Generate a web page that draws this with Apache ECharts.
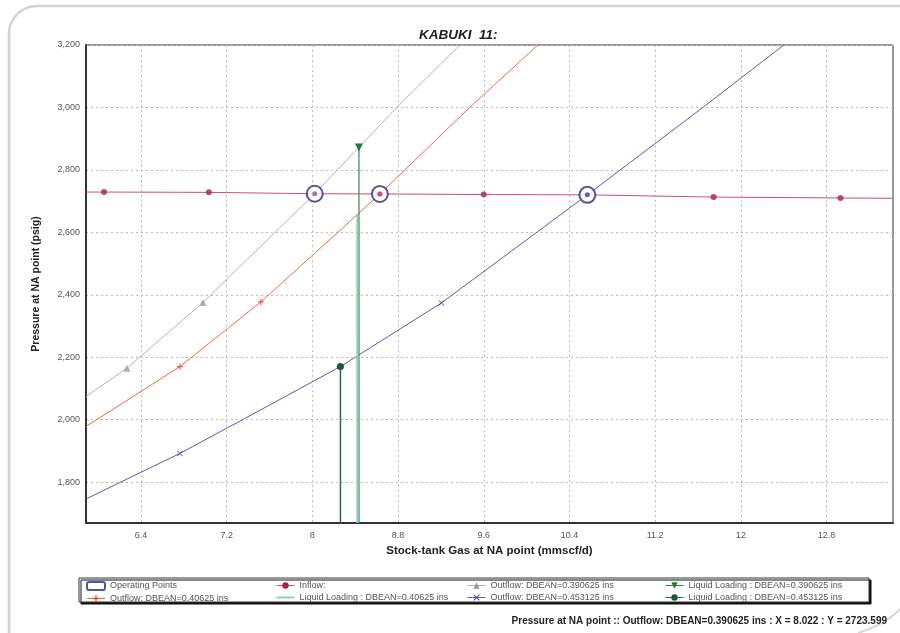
<!DOCTYPE html>
<html>
<head>
<meta charset="utf-8">
<script src="https://cdn.jsdelivr.net/npm/echarts@6/dist/echarts.min.js"></script>
<style>
  html, body { margin: 0; padding: 0; background: #fff; }
  #chart { width: 900px; height: 633px; }
</style>
</head>
<body>
<div id="chart"></div>
<script>
// Axis extents and tick labels
const xRange = [5.887, 13.42];
const yRange = [1669, 3200];
const xTicks = [6.4, 7.2, 8, 8.8, 9.6, 10.4, 11.2, 12, 12.8];
const yTicks = [1800, 2000, 2200, 2400, 2600, 2800, 3000, 3200];

// Inflow curve (IPR)
const inflowX = [5.887, 6.055, 7.034, 8.022, 8.63, 9.6, 10.567, 11.745, 12.93, 13.42];
const inflowY = [2729, 2729, 2728, 2723.6, 2723, 2721, 2720, 2713, 2710, 2709];
const inflowMarkX = [6.055, 7.034, 8.63, 9.6, 11.745, 12.93];
const inflowMarkY = [2729, 2728, 2723, 2721, 2713, 2710];

// Outflow curves (VLP) per bean size
const out390X = [5.887, 6.269, 6.978, 8.022, 8.788, 9.376];
const out390Y = [2074, 2165, 2375, 2723.6, 3000, 3200];
const out390MarkX = [6.269, 6.978];
const out390MarkY = [2165, 2375];

const out406X = [5.887, 6.764, 7.519, 8.238, 8.63, 9.469, 10.106];
const out406Y = [1978, 2170, 2377, 2600, 2723, 3000, 3200];
const out406MarkX = [6.764, 7.519];
const out406MarkY = [2170, 2377];

const out453X = [5.887, 6.764, 7.354, 8.262, 9.205, 10.567, 11.645, 12.401];
const out453Y = [1746, 1892, 2001, 2170, 2374, 2720, 3000, 3200];
const out453MarkX = [6.764, 9.205];
const out453MarkY = [1892, 2374];

// Operating points (inflow / outflow intersections)
const opX = [8.022, 8.63, 10.567];
const opY = [2723.599, 2723, 2720];

// Liquid loading limits
const ll390 = [8.435, 2872];
const ll406 = [8.42, 2659];
const ll453 = [8.262, 2170];

const NAMES = {
  op: 'Operating Points',
  inflow: 'Inflow:',
  o390: 'Outflow: DBEAN=0.390625 ins',
  o406: 'Outflow: DBEAN=0.40625 ins',
  o453: 'Outflow: DBEAN=0.453125 ins',
  l390: 'Liquid Loading : DBEAN=0.390625 ins',
  l406: 'Liquid Loading : DBEAN=0.40625 ins',
  l453: 'Liquid Loading : DBEAN=0.453125 ins'
};

const zip = (xs, ys) => xs.map((x, i) => [x, ys[i]]);
const vertical = (p) => [{ value: [p[0], yRange[0]], symbol: 'none' }, { value: p }];

const CROSS = 'path://M4,0H6V4H10V6H6V10H4V6H0V4H4Z';
const STAR = 'path://M1,0L5,4L9,0L10,1L6,5L10,9L9,10L5,6L1,10L0,9L4,5L0,1Z';
const LINE_ICON = 'path://M0,3H18V5H0Z';

const C = {
  inflow: '#cf4c7e', inflowDot: '#a3234f',
  o390: '#b3b3b3', o390Dot: '#9a9a9a',
  o406: '#f2664e', o406Dot: '#e0443a',
  o453: '#5a5aa6', o453Dot: '#44449a',
  op: '#2b2b7c',
  l390: '#2f8a55', l406: '#8fd0b6', l453: '#2d6a47'
};

const FONT = 'Liberation Sans';

const chart = echarts.init(document.getElementById('chart'), null, { renderer: 'canvas' });

const legendCommon = {
  orient: 'vertical',
  itemWidth: 18,
  itemHeight: 8,
  itemGap: 3,
  padding: 0,
  selectedMode: false,
  lineStyle: { width: 1 },
  textStyle: { fontFamily: FONT, fontSize: 9, color: '#555' }
};

const option = {
  backgroundColor: '#fff',
  animation: false,
  title: {
    text: 'KABUKI  11:',
    left: 414,
    top: 23,
    textStyle: { fontFamily: FONT, fontSize: 13.5, fontWeight: 'bold', fontStyle: 'italic', color: '#222' }
  },
  grid: {
    left: 86, right: 7, top: 45, bottom: 110,
    show: true, borderColor: '#333', borderWidth: 1, backgroundColor: '#fff'
  },
  xAxis: {
    type: 'value',
    min: xRange[0], max: xRange[1],
    name: 'Stock-tank Gas at NA point (mmscf/d)',
    nameLocation: 'middle',
    nameGap: 21,
    nameTextStyle: { fontFamily: FONT, fontSize: 11.5, fontWeight: 'bold', color: '#222' },
    axisLine: { show: true, onZero: false, lineStyle: { color: '#333', width: 2 } },
    axisTick: { show: false, customValues: xTicks },
    axisLabel: {
      customValues: xTicks,
      fontFamily: FONT, fontSize: 9, color: '#555', margin: 8,
      formatter: (v) => String(Math.round(v * 10) / 10)
    },
    splitLine: { show: true, lineStyle: { color: '#bdbdbd', type: [2, 3], width: 1 } }
  },
  yAxis: {
    type: 'value',
    min: yRange[0], max: yRange[1],
    name: 'Pressure at NA point (psig)',
    nameLocation: 'middle',
    nameGap: 44,
    nameTextStyle: { fontFamily: FONT, fontSize: 10.5, fontWeight: 'bold', color: '#222' },
    axisLine: { show: true, onZero: false, lineStyle: { color: '#333', width: 2 } },
    axisTick: { show: false, customValues: yTicks },
    axisLabel: {
      customValues: yTicks,
      fontFamily: FONT, fontSize: 9, color: '#555', margin: 6,
      formatter: (v) => v.toLocaleString('en-US')
    },
    splitLine: { show: true, lineStyle: { color: '#bdbdbd', type: [2, 3], width: 1 } }
  },
  legend: [
    Object.assign({}, legendCommon, { left: 86, top: 581, data: [
      { name: NAMES.op, icon: 'roundRect' }, NAMES.o406] }),
    Object.assign({}, legendCommon, { left: 276, top: 581, data: [
      NAMES.inflow, { name: NAMES.l406, icon: LINE_ICON }] }),
    Object.assign({}, legendCommon, { left: 467, top: 581, data: [NAMES.o390, NAMES.o453] }),
    Object.assign({}, legendCommon, { left: 665, top: 581, data: [NAMES.l390, NAMES.l453] })
  ],
  graphic: [
    {
      type: 'rect', z: -10, silent: true,
      shape: { x: 9, y: 6, width: 1000, height: 1000, r: 28 },
      style: { fill: 'none', stroke: '#d2d2d2', lineWidth: 2.5 }
    },
    {
      type: 'bezierCurve', z: -10, silent: true,
      shape: { x1: 858, y1: 633, cpx1: 874, cpy1: 628, cpx2: 890, cpy2: 620, x2: 900, y2: 609 },
      style: { fill: 'none', stroke: '#d6d6d6', lineWidth: 2 }
    },
    {
      type: 'rect', z: 1, silent: true,
      shape: { x: 79, y: 578, width: 790, height: 24 },
      style: { fill: '#fff', stroke: '#333', lineWidth: 1, shadowColor: '#111', shadowOffsetX: 2, shadowOffsetY: 2, shadowBlur: 0 }
    },
    {
      type: 'text', silent: true,
      style: {
        x: 887, y: 621,
        text: 'Pressure at NA point :: Outflow: DBEAN=0.390625 ins : X = ' + opX[0].toFixed(3) + ' : Y = ' + opY[0].toFixed(3),
        align: 'right', verticalAlign: 'middle',
        font: 'bold 10px "' + FONT + '"', fill: '#222'
      }
    }
  ],
  series: [
    // Outflow curves
    { name: NAMES.o390, type: 'line', data: zip(out390X, out390Y), showSymbol: false, symbol: 'triangle',
      lineStyle: { color: C.o390, width: 1 }, itemStyle: { color: C.o390Dot }, z: 3 },
    { name: NAMES.o390, type: 'scatter', data: zip(out390MarkX, out390MarkY), symbol: 'triangle', symbolSize: 7,
      itemStyle: { color: C.o390Dot }, z: 4 },

    { name: NAMES.o406, type: 'line', data: zip(out406X, out406Y), showSymbol: false, symbol: CROSS,
      lineStyle: { color: C.o406, width: 1 }, itemStyle: { color: C.o406Dot }, z: 3 },
    { name: NAMES.o406, type: 'scatter', data: zip(out406MarkX, out406MarkY), symbol: CROSS, symbolSize: 6,
      itemStyle: { color: C.o406Dot }, z: 4 },

    { name: NAMES.o453, type: 'line', data: zip(out453X, out453Y), showSymbol: false, symbol: STAR,
      lineStyle: { color: C.o453, width: 1 }, itemStyle: { color: C.o453Dot }, z: 3 },
    { name: NAMES.o453, type: 'scatter', data: zip(out453MarkX, out453MarkY), symbol: STAR, symbolSize: 6,
      itemStyle: { color: C.o453Dot }, z: 4 },

    // Inflow curve
    { name: NAMES.inflow, type: 'line', data: zip(inflowX, inflowY), showSymbol: false, symbol: 'circle',
      lineStyle: { color: C.inflow, width: 1 }, itemStyle: { color: C.inflowDot }, z: 3 },
    { name: NAMES.inflow, type: 'scatter', data: zip(inflowMarkX, inflowMarkY), symbol: 'circle', symbolSize: 6,
      itemStyle: { color: C.inflowDot }, z: 4 },

    // Liquid loading limits
    { name: NAMES.l406, type: 'line', data: vertical(ll406), symbol: 'none',
      lineStyle: { color: C.l406, width: 2 }, itemStyle: { color: C.l406 }, z: 5 },
    { name: NAMES.l390, type: 'line', data: vertical(ll390), symbol: 'triangle', symbolRotate: 180, symbolSize: 8,
      showAllSymbol: true, lineStyle: { color: C.l390, width: 1.2 }, itemStyle: { color: '#1f7a3e' }, z: 4 },
    { name: NAMES.l453, type: 'line', data: vertical(ll453), symbol: 'circle', symbolSize: 7,
      showAllSymbol: true, lineStyle: { color: C.l453, width: 1.5 }, itemStyle: { color: '#1b5a36' }, z: 5 },

    // Operating points
    { name: NAMES.op, type: 'scatter', data: zip(opX, opY), symbol: 'circle', symbolSize: 16,
      itemStyle: { color: '#fff', borderColor: C.op, borderWidth: 2 }, z: 6 },
    { name: 'op-centre', type: 'scatter', data: zip(opX, opY), symbol: 'circle', symbolSize: 5,
      itemStyle: { color: (p) => [ '#8a5c9c', '#d0245a', '#3c3ca4' ][p.dataIndex] }, z: 7 }
  ]
};

chart.setOption(option);
</script>
</body>
</html>
